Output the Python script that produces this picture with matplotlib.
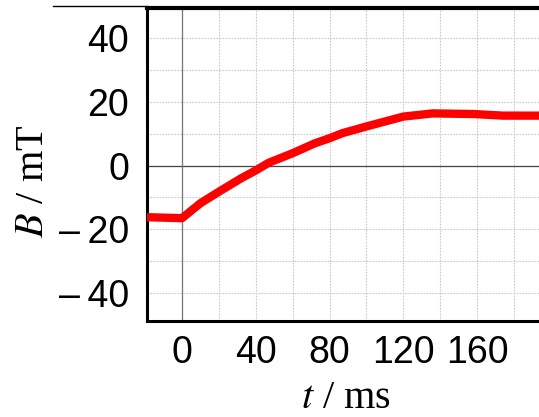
import matplotlib
matplotlib.use("Agg")
import matplotlib.pyplot as plt
from matplotlib.lines import Line2D
from matplotlib.ticker import MultipleLocator

plt.rcParams["mathtext.fontset"] = "stix"

t_ms = [-19, 0, 10, 20, 32, 40, 47, 60, 72, 80, 87, 100, 120, 136, 158, 174, 195]
B_mT = [-16.2, -16.5, -11.8, -8.2, -4.0, -1.5, 0.9, 3.9, 7.0, 8.6, 10.2, 12.3, 15.4, 16.4, 16.2, 15.7, 15.7]

x_ticks = [0, 40, 80, 120, 160]
y_ticks = [-40, -20, 0, 20, 40]

fig = plt.figure(figsize=(5.39, 4.17), dpi=100)
ax = fig.add_axes([147 / 539, 1 - 321 / 417, 1 - 147 / 539 + 0.01, (321 - 8) / 417])

ax.set_xlim(-19, 196.5)
ax.set_ylim(-48.8, 49.5)

# fine grid every 20 ms / 10 mT
ax.xaxis.set_minor_locator(MultipleLocator(20))
ax.yaxis.set_minor_locator(MultipleLocator(10))
ax.grid(which="both", color="#c8c8c8", linestyle=(0, (1.5, 1.2)), linewidth=0.8)
ax.axhline(0, color="#444444", lw=0.9)
ax.axvline(0, color="#777777", lw=0.9)

ax.plot(t_ms, B_mT, color="#ff0000", lw=6, solid_capstyle="butt", zorder=3)

ax.set_xticks(x_ticks)
ax.set_yticks(y_ticks)
ax.set_xticklabels([str(v) for v in x_ticks])
ax.set_yticklabels([("\u2013\u2009" + str(-v)) if v < 0 else str(v) for v in y_ticks])
ax.tick_params(which="both", length=0)
ax.tick_params(axis="x", pad=10)
ax.tick_params(axis="y", pad=13)
for lab in ax.get_xticklabels() + ax.get_yticklabels():
    lab.set_family(["Liberation Sans", "DejaVu Sans"])
    lab.set_fontsize(27)

serif = ["Liberation Serif", "DejaVu Serif"]
ax.set_xlabel(r"$t$ / ms", family=serif, fontsize=29)
ax.set_ylabel(r"$B$ / mT", family=serif, fontsize=29)
ax.xaxis.label.set_va("baseline")
ax.xaxis.set_label_coords(0.5, -0.278)
ax.yaxis.set_label_coords(-0.24, 0.447)

for side in ["left", "bottom"]:
    ax.spines[side].set_linewidth(2.2)
ax.spines["top"].set_linewidth(3)
ax.spines["right"].set_visible(False)

# thin line along the top edge left of the frame
fig.add_artist(Line2D([53 / 539, 147 / 539], [1 - 6 / 417, 1 - 6 / 417],
                      color="black", lw=1, transform=fig.transFigure))

fig.savefig("out.png", dpi=100)
